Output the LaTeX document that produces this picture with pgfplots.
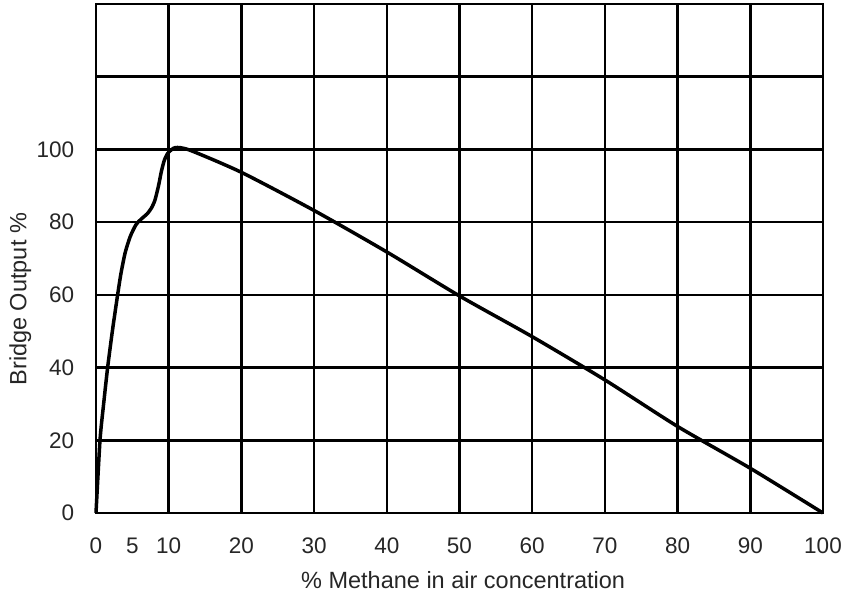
\documentclass[border=0pt]{standalone}
\usepackage{fontspec}
\setmainfont{Liberation Sans}
\usepackage{pgfplots}
\usetikzlibrary{calc}
\pgfplotsset{compat=1.18}
\begin{document}
\fontsize{23}{27}\selectfont
\begin{tikzpicture}
\begin{axis}[
  scale only axis,
  width=727pt, height=509pt,
  xmin=0, xmax=100, ymin=0, ymax=140,
  xtick={0,10,20,30,40,50,60,70,80,90,100},
  extra x ticks={5},
  extra x tick style={grid=none},
  ytick={0,20,40,60,80,100,120,140},
  yticklabels={0,20,40,60,80,100,,},
  grid=major,
  major grid style={black, line width=2.5pt},
  axis line style={black, line width=2.5pt},
  major tick length=0pt,
  /pgf/number format/assume math mode=true,
  tick label style={font=\fontsize{22.5}{27}\selectfont, text=black!85},
  xticklabel style={yshift=-17pt},
  yticklabel style={xshift=-14pt},
  xlabel={\% Methane in air concentration},
  ylabel={Bridge Output \%},
  label style={font=\fontsize{23.5}{27}\selectfont, text=black!85},
  xlabel style={at={(axis description cs:0.505,-0.132)}, anchor=center},
  ylabel style={at={(axis description cs:-0.104,0.42)}, anchor=center},
  clip=false,
]
\addplot[black, line width=3.5pt, smooth, tension=0.4] coordinates {
(0,0) (0.55,20) (1.05,30) (1.6,40) (2.25,50) (2.9,59) (3.4,65.5) (4.0,71.5) (4.7,76) (5.5,79.3)
(6.3,81) (7.0,82.2) (7.6,83.8) (8.1,86) (8.6,90) (9.0,94) (9.4,97) (9.9,99) (10.9,100.5)
(12.9,99.8) (20,93.7) (30,83.2) (40,71.8) (50,59.7) (60,48.5) (70,36.6) (80,23.8) (90,12.3) (100,0)
};
\coordinate (ll) at (rel axis cs:0,0);
\end{axis}
\pgfresetboundingbox
\path ($(ll)+(-96pt,-92pt)$) rectangle ($(ll)+(748pt,513pt)$);
\end{tikzpicture}
\end{document}
